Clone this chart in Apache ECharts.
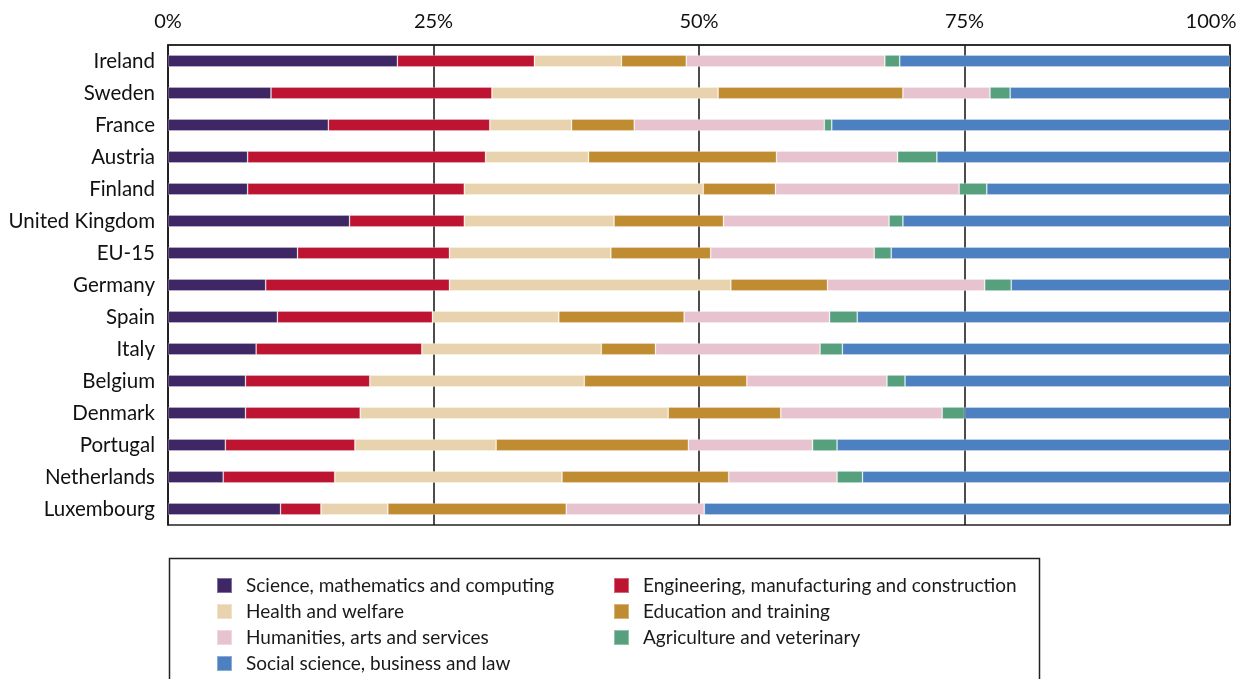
<!DOCTYPE html>
<html>
<head>
<meta charset="utf-8">
<script src="https://cdn.jsdelivr.net/npm/echarts@6/dist/echarts.min.js"></script>
<style>
  html, body { margin: 0; padding: 0; background: #fff; }
  #chart { width: 1244px; height: 679px; }
</style>
</head>
<body>
<div id="chart"></div>
<script>
// Share of graduates by field of study, per country (percent)
const countries = ['Ireland', 'Sweden', 'France', 'Austria', 'Finland', 'United Kingdom', 'EU-15',
  'Germany', 'Spain', 'Italy', 'Belgium', 'Denmark', 'Portugal', 'Netherlands', 'Luxembourg'];

const fields = [
  'Science, mathematics and computing',
  'Engineering, manufacturing and construction',
  'Health and welfare',
  'Education and training',
  'Humanities, arts and services',
  'Agriculture and veterinary',
  'Social science, business and law'
];

const science     = [21.6,  9.7, 15.1,  7.5,  7.5, 17.1, 12.2,  9.2, 10.3,  8.3,  7.3,  7.3,  5.4,  5.2, 10.6];
const engineering = [12.9, 20.8, 15.2, 22.4, 20.4, 10.8, 14.3, 17.3, 14.6, 15.6, 11.7, 10.8, 12.2, 10.5,  3.8];
const health      = [ 8.2, 21.3,  7.7,  9.7, 22.5, 14.1, 15.2, 26.5, 11.9, 16.9, 20.2, 29.0, 13.3, 21.4,  6.3];
const education   = [ 6.1, 17.4,  5.9, 17.7,  6.8, 10.3,  9.4,  9.1, 11.8,  5.1, 15.3, 10.6, 18.1, 15.7, 16.8];
const humanities  = [18.7,  8.2, 17.9, 11.4, 17.3, 15.6, 15.4, 14.8, 13.7, 15.5, 13.2, 15.2, 11.7, 10.2, 13.0];
const agriculture = [ 1.4,  1.9,  0.7,  3.7,  2.6,  1.3,  1.6,  2.5,  2.6,  2.1,  1.7,  2.1,  2.3,  2.4,  0.0];
const social      = [31.1, 20.7, 37.5, 27.6, 22.9, 30.8, 31.9, 20.6, 35.1, 36.5, 30.6, 25.0, 37.0, 34.6, 49.5];

const tickLabels = ['0%', '25%', '50%', '75%', '100%'];

const seriesValues = [science, engineering, health, education, humanities, agriculture, social];
const colors = ['#3f2766', '#bc1431', '#e9d3ae', '#c08c31', '#e6c3cf', '#56a07d', '#4c80c0'];

const FONT = 'Lato, "Open Sans", sans-serif';

const chart = echarts.init(document.getElementById('chart'), null, { renderer: 'canvas' });

const series = fields.map((name, i) => ({
  name: name,
  type: 'bar',
  stack: 'total',
  barWidth: 12,
  data: seriesValues[i],
  itemStyle: {
    color: colors[i],
    borderColor: 'rgba(255,255,255,0.35)',
    borderWidth: 0.8
  },
  emphasis: { disabled: true }
}));

const legendText = {
  fontFamily: FONT,
  fontSize: 19,
  color: '#1a1a1a',
  padding: [0, 0, 0, 9]
};

const legendCommon = {
  orient: 'vertical',
  top: 576,
  height: 110,
  padding: 0,
  itemWidth: 15,
  itemHeight: 15,
  itemGap: 7,
  icon: 'rect',
  selectedMode: false,
  textStyle: legendText
};

chart.setOption({
  animation: false,
  backgroundColor: '#ffffff',
  grid: {
    left: 168,
    right: 14,
    top: 45,
    bottom: 154,
    containLabel: false,
    outerBoundsMode: 'none',
    show: true,
    borderColor: '#222',
    borderWidth: 1.5,
    backgroundColor: 'transparent'
  },
  xAxis: {
    type: 'value',
    position: 'top',
    min: 0,
    max: 100,
    interval: 25,
    axisLine: { show: true, lineStyle: { color: '#222', width: 1.5 } },
    axisTick: { show: false },
    splitLine: { show: true, lineStyle: { color: '#111', width: 1.5 } },
    axisLabel: {
      margin: 13,
      fontFamily: FONT,
      fontSize: 20,
      color: '#111',
      // the last label is pulled inward so it stays inside the page
      formatter: v => {
        const t = tickLabels[Math.round(v / 25)];
        return v === 100 ? '{last|' + t + '}' : t;
      },
      rich: {
        last: { fontFamily: FONT, fontSize: 20, color: '#111', padding: [0, 38, 0, 0] }
      }
    }
  },
  yAxis: {
    type: 'category',
    inverse: true,
    data: countries,
    axisLine: { show: true, lineStyle: { color: '#222', width: 1.5 } },
    axisTick: { show: false },
    axisLabel: {
      margin: 13,
      fontFamily: FONT,
      fontSize: 20.5,
      color: '#111'
    }
  },
  legend: [
    Object.assign({}, legendCommon, {
      left: 216,
      data: [fields[0], fields[2], fields[4], fields[6]]
    }),
    Object.assign({}, legendCommon, {
      left: 613,
      data: [fields[1], fields[3], fields[5]]
    })
  ],
  graphic: [
    {
      type: 'rect',
      left: 167,
      top: 556,
      shape: { width: 870, height: 160 },
      style: { fill: 'none', stroke: '#222', lineWidth: 1.5 },
      silent: true
    }
  ],
  series: series
});
</script>
</body>
</html>
